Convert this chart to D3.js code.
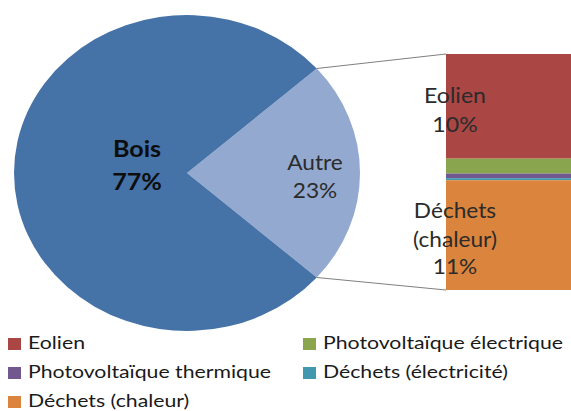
<!DOCTYPE html>
<html>
<head>
<meta charset="utf-8">
<script src="https://cdn.jsdelivr.net/npm/d3@7"></script>
<style>
  html, body { margin: 0; padding: 0; background: #fff; }
  svg { display: block; }
  text { font-family: Lato, "Open Sans", sans-serif; }
</style>
</head>
<body>
<svg id="chart" width="571" height="411"></svg>
<script>
// Main pie: share of each source (%)
const pieLabels = ["Bois", "Autre"];
const pieValues = [77, 23];
const pieColors = ["#4572A7", "#93A9CF"];

// Breakdown of "Autre" (%), shown as the stacked bar
const subLabels = ["Eolien", "Photovoltaïque électrique", "Photovoltaïque thermique", "Déchets (électricité)", "Déchets (chaleur)"];
const subValues = [10.2, 1.45, 0.45, 0.2, 10.7];
const subColors = ["#AA4643", "#89A54E", "#71588F", "#4198AF", "#DB843D"];

const pct = v => d3.format(".0f")(v) + "%";
const svg = d3.select("#chart");

// ---- pie (drawn slightly wider than tall) ----
const cx = 187, cy = 173, rx = 173, ry = 158;
const autreAngle = pieValues[1] / d3.sum(pieValues) * 2 * Math.PI;
const startA = Math.PI / 2 - autreAngle / 2;

const pie = d3.pie().sort(null).value(d => d.v)
  .startAngle(startA).endAngle(startA + 2 * Math.PI);
const pieData = pie([
  { name: pieLabels[1], v: pieValues[1], c: pieColors[1] },
  { name: pieLabels[0], v: pieValues[0], c: pieColors[0] }
]);
const arc = d3.arc().innerRadius(0).outerRadius(ry);

const pg = svg.append("g")
  .attr("transform", `translate(${cx},${cy}) scale(${rx / ry},1)`);
pg.selectAll("path").data(pieData).join("path")
  .attr("d", arc)
  .attr("fill", d => d.data.c);

// ---- stacked bar ----
const barX = 446, barW = 140;
const y = d3.scaleLinear().domain([0, d3.sum(subValues)]).range([54, 290]);
let acc = 0;
const stack = subValues.map((v, i) => {
  const s = { v, y0: acc, y1: acc + v, c: subColors[i], name: subLabels[i] };
  acc += v;
  return s;
});
svg.append("g").selectAll("rect").data(stack).join("rect")
  .attr("x", barX)
  .attr("y", d => y(d.y0))
  .attr("width", barW)
  .attr("height", d => y(d.y1) - y(d.y0))
  .attr("fill", d => d.c);

// ---- connector lines from the "Autre" slice edges to the bar ----
const edgePt = a => [cx + rx * Math.sin(a), cy - ry * Math.cos(a)];
const pTop = edgePt(startA), pBot = edgePt(startA + autreAngle);
svg.append("line")
  .attr("x1", pTop[0]).attr("y1", pTop[1])
  .attr("x2", barX).attr("y2", y(0))
  .attr("stroke", "#7f7f7f").attr("stroke-width", 1);
svg.append("line")
  .attr("x1", pBot[0]).attr("y1", pBot[1])
  .attr("x2", barX).attr("y2", y(d3.sum(subValues)))
  .attr("stroke", "#7f7f7f").attr("stroke-width", 1);

// ---- data labels (text is slightly widened horizontally) ----
function label(lines, x, ys, opts) {
  const t = svg.append("text")
    .attr("text-anchor", "middle")
    .attr("transform", `translate(${x},0) scale(${opts.sx},1)`)
    .attr("font-size", opts.size)
    .attr("font-weight", opts.bold ? "bold" : "normal")
    .attr("fill", opts.color);
  lines.forEach((s, i) => t.append("tspan").attr("x", 0).attr("y", ys[i]).text(s));
}
label([pieLabels[0], pct(pieValues[0])], 137, [157, 190], { size: 22, sx: 1.14, bold: true, color: "#0d0d0d" });
label([pieLabels[1], pct(pieValues[1])], 315, [170, 198], { size: 21, sx: 1.08, bold: false, color: "#2b2b2b" });
label([subLabels[0], pct(subValues[0])], 455, [103, 132], { size: 21, sx: 1.1, bold: false, color: "#2b2b2b" });
label(["Déchets", "(chaleur)", pct(subValues[4])], 455, [218, 247, 274], { size: 21, sx: 1.08, bold: false, color: "#2b2b2b" });

// ---- legend ----
const legendPos = [
  [8, 338], [303, 338],
  [8, 367], [303, 367],
  [8, 396]
];
const lg = svg.append("g").selectAll("g").data(subLabels).join("g")
  .attr("transform", (d, i) => `translate(${legendPos[i][0]},${legendPos[i][1]})`);
lg.append("rect").attr("width", 13).attr("height", 12)
  .attr("fill", (d, i) => subColors[i]);
lg.append("text")
  .attr("transform", "translate(20,11) scale(1.25,1)")
  .attr("font-size", 17).attr("fill", "#1a1a1a")
  .text(d => d);
</script>
</body>
</html>
